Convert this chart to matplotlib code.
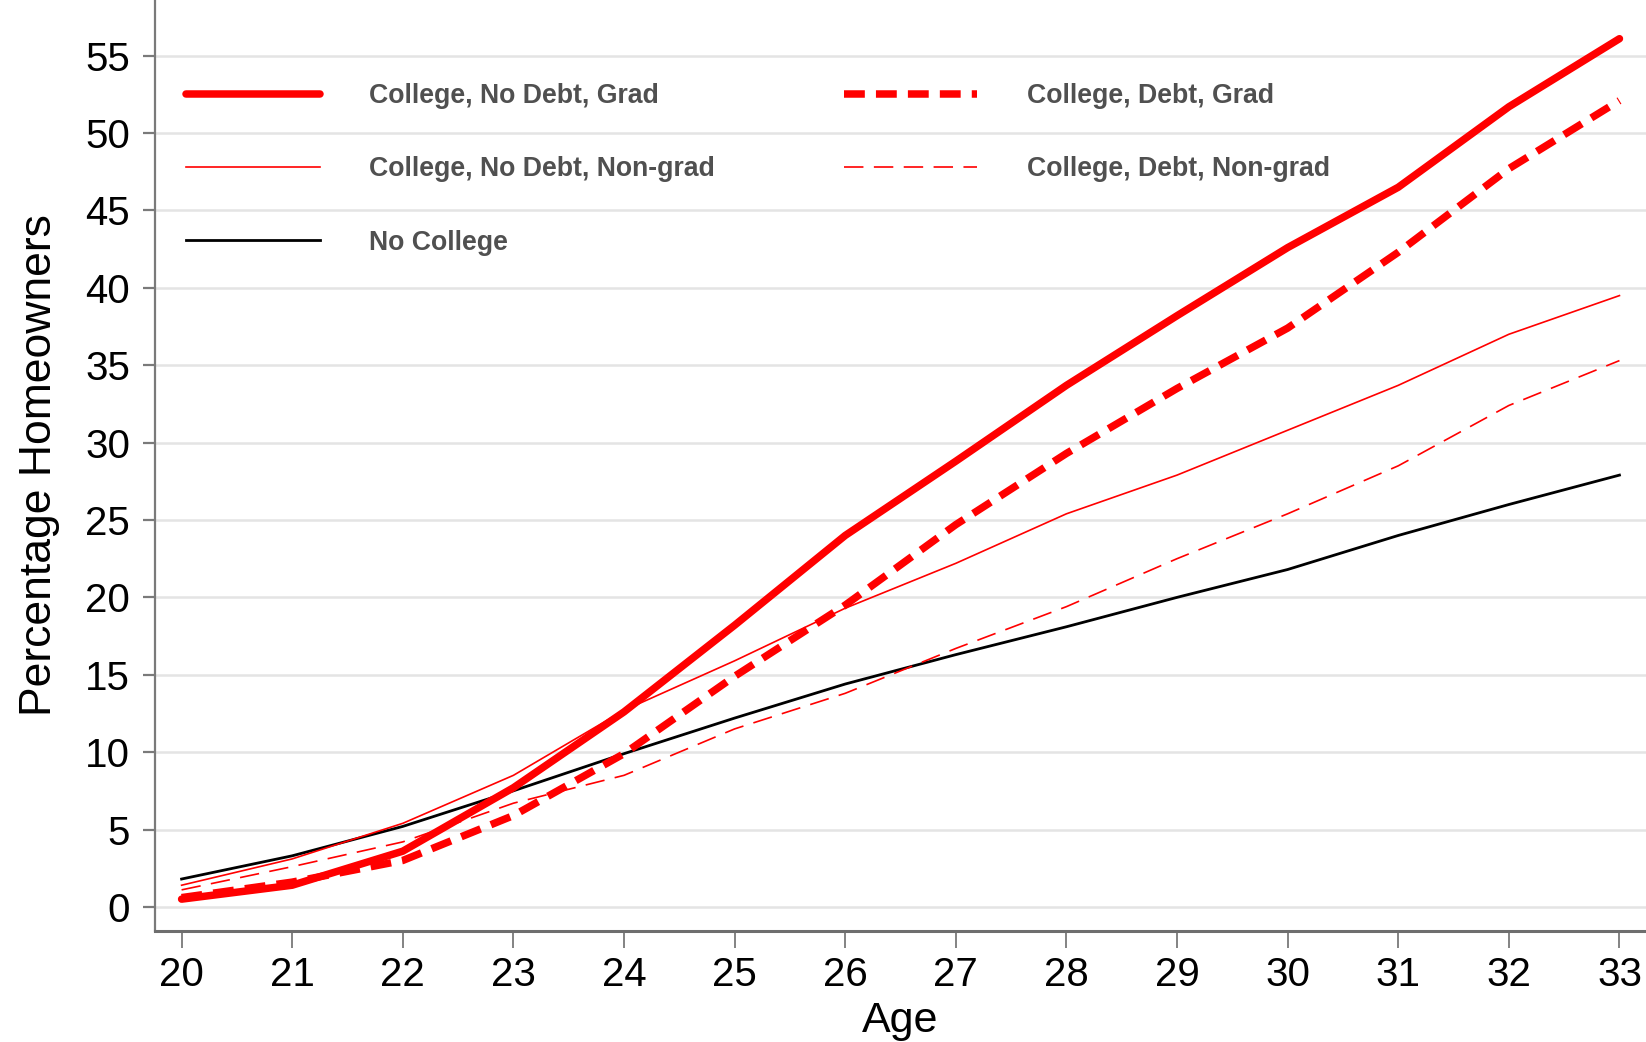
import matplotlib
matplotlib.use("Agg")
import matplotlib.pyplot as plt

ages = [20, 21, 22, 23, 24, 25, 26, 27, 28, 29, 30, 31, 32, 33]

nodebt_grad = [0.5, 1.4, 3.6, 7.7, 12.6, 18.2, 24.0, 28.8, 33.7, 38.2, 42.6, 46.5, 51.7, 56.1]
debt_grad = [0.6, 1.6, 3.0, 5.9, 9.9, 14.9, 19.5, 24.7, 29.3, 33.5, 37.4, 42.3, 47.7, 52.1]
nodebt_nongrad = [1.4, 3.1, 5.4, 8.5, 12.7, 15.9, 19.3, 22.2, 25.4, 27.9, 30.8, 33.7, 37.0, 39.5]
debt_nongrad = [1.1, 2.6, 4.2, 6.7, 8.5, 11.5, 13.8, 16.7, 19.4, 22.5, 25.4, 28.5, 32.4, 35.3]
no_college = [1.8, 3.3, 5.2, 7.5, 9.9, 12.2, 14.4, 16.3, 18.1, 20.0, 21.8, 24.0, 26.0, 27.9]

y_ticks = list(range(0, 60, 5))

plt.rcParams["font.family"] = ["Liberation Sans", "DejaVu Sans"]

fig = plt.figure(figsize=(16.46, 10.42), dpi=100)
ax = fig.add_axes([0.0942, 0.1065, 0.9058, 0.8935])

thick = 5.4
thin = 1.2

l1, = ax.plot(ages, nodebt_grad, color="red", lw=thick, solid_capstyle="round",
              label="College, No Debt, Grad", zorder=5)
l2, = ax.plot(ages, nodebt_nongrad, color="red", lw=thin,
              label="College, No Debt, Non-grad", zorder=4)
l3, = ax.plot(ages, no_college, color="black", lw=2.0,
              label="No College", zorder=3)
l4, = ax.plot(ages, debt_grad, color="red", lw=thick, dashes=(15 / thick, 8 / thick),
              dash_capstyle="butt", label="College, Debt, Grad", zorder=5)
l5, = ax.plot(ages, debt_nongrad, color="red", lw=thin, dashes=(14 / thin, 7.5 / thin),
              label="College, Debt, Non-grad", zorder=4)

ax.set_xlim(19.76, 33.24)
ax.set_ylim(-1.56, 58.6)
ax.set_xticks(ages)
ax.set_yticks(y_ticks)
ax.grid(axis="y", color="#e4e4e4", lw=1.8)
ax.set_axisbelow(True)

for side in ("top", "right"):
    ax.spines[side].set_visible(False)
ax.spines["left"].set_color("#7a7a7a")
ax.spines["left"].set_linewidth(1.6)
ax.spines["bottom"].set_color("#6e6e6e")
ax.spines["bottom"].set_linewidth(2.2)

ax.tick_params(axis="y", length=9, width=1.6, color="#7a7a7a", pad=9, labelsize=29)
ax.tick_params(axis="x", length=12, width=1.3, color="#7a7a7a", pad=6, labelsize=29)

ax.set_xlabel("Age", fontsize=31, labelpad=5)
ax.set_ylabel("Percentage Homeowners", fontsize=32, labelpad=18)

leg = ax.legend(
    handles=[l1, l2, l3, l4, l5],
    ncol=2,
    loc="upper left",
    bbox_to_anchor=(0.021, 0.911),
    frameon=False,
    handlelength=5.0,
    handletextpad=1.85,
    columnspacing=4.85,
    labelspacing=1.78,
    borderpad=0,
    borderaxespad=0,
    prop={"weight": "bold", "size": 19.2},
)
for t in leg.get_texts():
    t.set_color("#505050")

fig.savefig("out.png", dpi=100)
